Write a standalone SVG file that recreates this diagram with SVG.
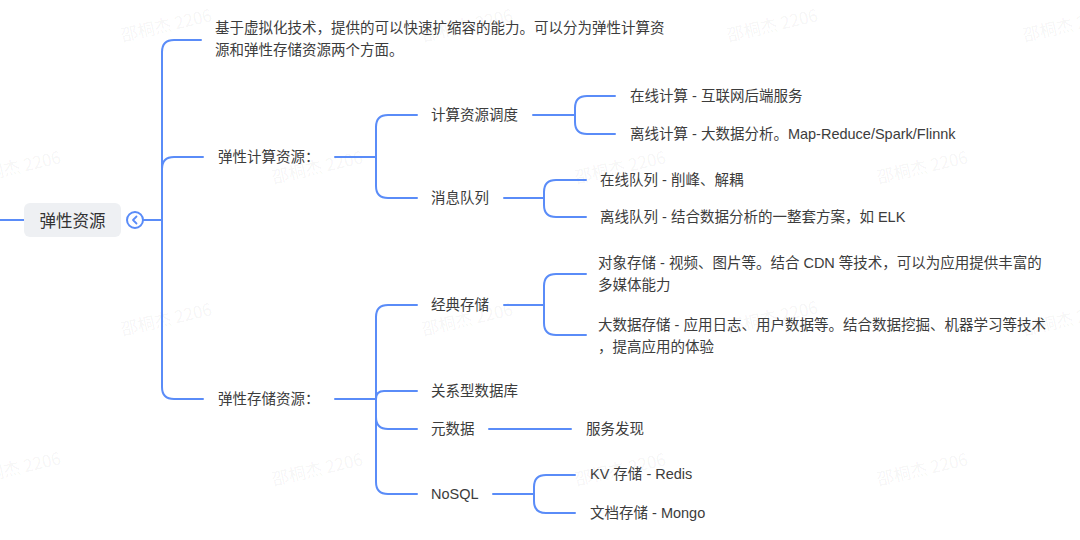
<svg xmlns="http://www.w3.org/2000/svg" width="1080" height="540" viewBox="0 0 1080 540">
<style>
  .t{font-family:"Liberation Sans","Noto Sans CJK SC",sans-serif;font-size:14.5px;fill:#3c3c3c;dominant-baseline:central}
  .root{font-family:"Noto Sans CJK SC","Liberation Sans",sans-serif;font-size:16.5px;fill:#333;dominant-baseline:central;text-anchor:middle}
  .c{fill:none;stroke:#5a8cf8;stroke-width:2;stroke-linecap:round;stroke-linejoin:round}
  .wm{font-family:"Noto Sans CJK SC","Liberation Sans",sans-serif;font-size:17px;fill:#000;fill-opacity:0.05;text-anchor:middle;dominant-baseline:central}
</style>
<rect width="1080" height="540" fill="#ffffff"/>
<g id="watermarks">
  <text class="wm" transform="translate(166,24) rotate(-13)">邵桐杰 2206</text>
  <text class="wm" transform="translate(467,24) rotate(-13)">邵桐杰 2206</text>
  <text class="wm" transform="translate(772,24) rotate(-13)">邵桐杰 2206</text>
  <text class="wm" transform="translate(1068,24) rotate(-13)">邵桐杰 2206</text>
  <text class="wm" transform="translate(15,166) rotate(-13)">邵桐杰 2206</text>
  <text class="wm" transform="translate(317,166) rotate(-13)">邵桐杰 2206</text>
  <text class="wm" transform="translate(620,166) rotate(-13)">邵桐杰 2206</text>
  <text class="wm" transform="translate(922,166) rotate(-13)">邵桐杰 2206</text>
  <text class="wm" transform="translate(166,318) rotate(-13)">邵桐杰 2206</text>
  <text class="wm" transform="translate(467,318) rotate(-13)">邵桐杰 2206</text>
  <text class="wm" transform="translate(772,316) rotate(-13)">邵桐杰 2206</text>
  <text class="wm" transform="translate(1068,318) rotate(-13)">邵桐杰 2206</text>
  <text class="wm" transform="translate(15,467) rotate(-13)">邵桐杰 2206</text>
  <text class="wm" transform="translate(317,468) rotate(-13)">邵桐杰 2206</text>
  <text class="wm" transform="translate(620,468) rotate(-13)">邵桐杰 2206</text>
  <text class="wm" transform="translate(922,468) rotate(-13)">邵桐杰 2206</text>
</g>
<g id="connectors">
  <path class="c" d="M0,220 L24,220"/>
  <path class="c" d="M143,220 L162,220"/>
  <path class="c" d="M162,220 L162,52 Q162,40 174,40 L201,40"/>
  <path class="c" d="M162,220 L162,169 Q162,157 174,157 L203,157"/>
  <path class="c" d="M162,220 L162,387 Q162,399 174,399 L203,399"/>
  <path class="c" d="M335,157 L376,157"/>
  <path class="c" d="M376,157 L376,127 Q376,115 388,115 L417,115"/>
  <path class="c" d="M376,157 L376,186 Q376,198 388,198 L417,198"/>
  <path class="c" d="M533,115 L575,115"/>
  <path class="c" d="M575,115 L575,108 Q575,96 587,96 L615,96"/>
  <path class="c" d="M575,115 L575,122 Q575,134 587,134 L615,134"/>
  <path class="c" d="M504,198 L544,198"/>
  <path class="c" d="M544,198 L544,192 Q544,180 556,180 L586,180"/>
  <path class="c" d="M544,198 L544,205 Q544,217 556,217 L586,217"/>
  <path class="c" d="M335,399 L376,399"/>
  <path class="c" d="M376,399 L376,317 Q376,305 388,305 L417,305"/>
  <path class="c" d="M376,399 Q376,391 384,391 L417,391"/>
  <path class="c" d="M376,399 L376,417 Q376,429 388,429 L417,429"/>
  <path class="c" d="M376,399 L376,482 Q376,494 388,494 L417,494"/>
  <path class="c" d="M504,305 L544,305"/>
  <path class="c" d="M544,305 L544,286 Q544,274 556,274 L586,274"/>
  <path class="c" d="M544,305 L544,323 Q544,335 556,335 L586,335"/>
  <path class="c" d="M489,429 L571,429"/>
  <path class="c" d="M493,494 L534,494"/>
  <path class="c" d="M534,494 L534,487 Q534,475 546,475 L575,475"/>
  <path class="c" d="M534,494 L534,501 Q534,513 546,513 L575,513"/>
</g>
<g id="root">
  <rect x="24" y="203" width="97" height="34" rx="6" fill="#eef0f3"/>
  <text class="root" x="72.5" y="220">弹性资源</text>
</g>
<g id="collapse">
  <circle cx="135" cy="220" r="8" fill="#fff" stroke="#5a8cf8" stroke-width="2"/>
  <path d="M136.5,216.5 L133,220 L136.5,223.5" fill="none" stroke="#5a8cf8" stroke-width="1.8" stroke-linecap="round" stroke-linejoin="round"/>
</g>
<g id="desc">
  <text class="t" x="215" y="28">基于虚拟化技术，提供的可以快速扩缩容的能力。可以分为弹性计算资</text>
  <text class="t" x="215" y="50">源和弹性存储资源两个方面。</text>
</g>
<g id="compute"><text class="t" x="218" y="157">弹性计算资源：</text></g>
<g id="storage"><text class="t" x="218" y="399">弹性存储资源：</text></g>
<g id="schedule"><text class="t" x="431" y="115">计算资源调度</text></g>
<g id="online-compute"><text class="t" x="630" y="96">在线计算 - 互联网后端服务</text></g>
<g id="offline-compute"><text class="t" x="630" y="134">离线计算 - 大数据分析。Map-Reduce/Spark/Flinnk</text></g>
<g id="mq"><text class="t" x="431" y="198">消息队列</text></g>
<g id="online-mq"><text class="t" x="600" y="180">在线队列 - 削峰、解耦</text></g>
<g id="offline-mq"><text class="t" x="600" y="217">离线队列 - 结合数据分析的一整套方案，如 ELK</text></g>
<g id="classic"><text class="t" x="431" y="305">经典存储</text></g>
<g id="object">
  <text class="t" x="598" y="263">对象存储 - 视频、图片等。结合 CDN 等技术，可以为应用提供丰富的</text>
  <text class="t" x="598" y="285">多媒体能力</text>
</g>
<g id="bigdata">
  <text class="t" x="598" y="325">大数据存储 - 应用日志、用户数据等。结合数据挖掘、机器学习等技术</text>
  <text class="t" x="598" y="347">，提高应用的体验</text>
</g>
<g id="rdb"><text class="t" x="431" y="391">关系型数据库</text></g>
<g id="meta"><text class="t" x="431" y="429">元数据</text></g>
<g id="discovery"><text class="t" x="586" y="429">服务发现</text></g>
<g id="nosql"><text class="t" x="431" y="494">NoSQL</text></g>
<g id="kv"><text class="t" x="590" y="474">KV 存储 - Redis</text></g>
<g id="doc"><text class="t" x="590" y="513">文档存储 - Mongo</text></g>
</svg>
